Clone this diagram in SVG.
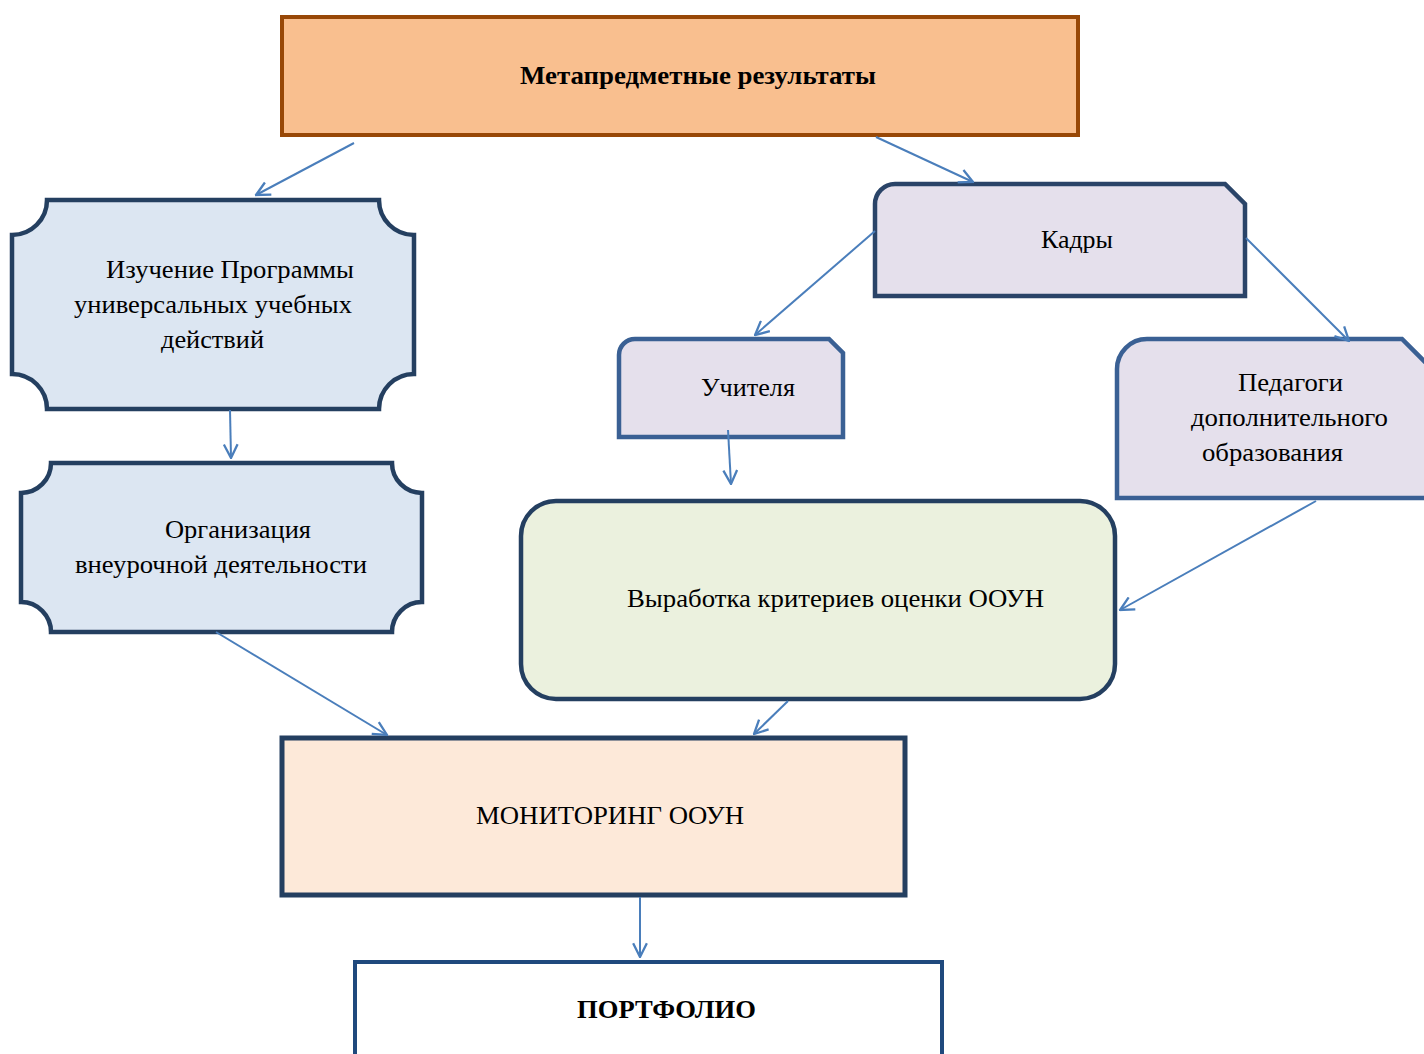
<svg xmlns="http://www.w3.org/2000/svg" width="1424" height="1054" viewBox="0 0 1424 1054">
<defs>
<style>
text{font-family:"Liberation Serif","Times New Roman",serif;font-size:26px;fill:#000}
.b{font-weight:bold}
.ln{fill:none;stroke:#4A7EBB;stroke-width:2;marker-end:url(#ah)}
.navy{stroke:#243F60;stroke-width:4.5}
.blue{stroke:#3A6094;stroke-width:4.5}
</style>
<marker id="ah" viewBox="0 0 14 14" refX="13" refY="7" markerWidth="16" markerHeight="16" markerUnits="userSpaceOnUse" orient="auto">
<path d="M1,1 L13,7 L1,13" fill="none" stroke="#4A7EBB" stroke-width="2"/>
</marker>
</defs>
<rect width="1424" height="1054" fill="#fff"/>

<g id="n-title">
<rect x="282" y="17" width="796" height="118" fill="#F9BF8F" stroke="#984807" stroke-width="4"/>
<text class="b" x="520" y="84" textLength="356" lengthAdjust="spacingAndGlyphs">Метапредметные результаты</text>
</g>

<g id="n-study">
<path class="navy" fill="#DCE6F2" d="M47,200 H379 A35,35 0 0 0 414,235 V374 A35,35 0 0 0 379,409 H47 A35,35 0 0 0 12,374 V235 A35,35 0 0 0 47,200 Z"/>
<text x="106" y="278" textLength="248" lengthAdjust="spacingAndGlyphs">Изучение Программы</text>
<text x="74" y="313" textLength="278" lengthAdjust="spacingAndGlyphs">универсальных учебных</text>
<text x="161" y="348" textLength="103" lengthAdjust="spacingAndGlyphs">действий</text>
</g>

<g id="n-org">
<path class="navy" fill="#DCE6F2" d="M51,463 H392 A30,30 0 0 0 422,493 V602 A30,30 0 0 0 392,632 H51 A30,30 0 0 0 21,602 V493 A30,30 0 0 0 51,463 Z"/>
<text x="165" y="538" textLength="146" lengthAdjust="spacingAndGlyphs">Организация</text>
<text x="75" y="573" textLength="292" lengthAdjust="spacingAndGlyphs">внеурочной деятельности</text>
</g>

<g id="n-kadry">
<path fill="#E5E0EC" stroke="#2A4468" stroke-width="4.5" d="M895,184 H1225 L1245,204 V296 H875 V204 A20,20 0 0 1 895,184 Z"/>
<text x="1041" y="248" textLength="72" lengthAdjust="spacingAndGlyphs">Кадры</text>
</g>

<g id="n-teachers">
<path class="blue" fill="#E5E0EC" d="M635,339 H829 L843,353 V437 H619 V355 A16,16 0 0 1 635,339 Z"/>
<text x="701" y="396" textLength="94" lengthAdjust="spacingAndGlyphs">Учителя</text>
</g>

<g id="n-pedagogi">
<path class="blue" fill="#E5E0EC" d="M1147,339 H1402 L1440,377 V498 H1117 V369 A30,30 0 0 1 1147,339 Z"/>
<text x="1238" y="391" textLength="105" lengthAdjust="spacingAndGlyphs">Педагоги</text>
<text x="1191" y="426" textLength="197" lengthAdjust="spacingAndGlyphs">дополнительного</text>
<text x="1202" y="461" textLength="141" lengthAdjust="spacingAndGlyphs">образования</text>
</g>

<g id="n-criteria">
<rect class="navy" x="521" y="501" width="594" height="198" rx="35" ry="35" fill="#EBF1DE"/>
<text x="627" y="607" textLength="417" lengthAdjust="spacingAndGlyphs">Выработка критериев оценки ООУН</text>
</g>

<g id="n-monitoring">
<rect x="282" y="738" width="623" height="157" fill="#FDE9D9" stroke="#243F60" stroke-width="5"/>
<text x="476" y="824" textLength="268" lengthAdjust="spacingAndGlyphs">МОНИТОРИНГ ООУН</text>
</g>

<g id="n-portfolio">
<rect x="355" y="962" width="587" height="130" fill="#FFFFFF" stroke="#1F497D" stroke-width="4"/>
<text class="b" x="577" y="1018" textLength="179" lengthAdjust="spacingAndGlyphs">ПОРТФОЛИО</text>
</g>

<g id="connectors">
<line class="ln" x1="354" y1="143" x2="256" y2="195"/>
<line class="ln" x1="876" y1="137" x2="973" y2="182"/>
<line class="ln" x1="875" y1="231" x2="755" y2="335"/>
<line class="ln" x1="1246" y1="238" x2="1349" y2="341"/>
<line class="ln" x1="230" y1="410" x2="231" y2="458"/>
<line class="ln" x1="728" y1="430" x2="731" y2="484"/>
<line class="ln" x1="1316" y1="501" x2="1120" y2="610"/>
<line class="ln" x1="216" y1="632" x2="387" y2="735"/>
<line class="ln" x1="788" y1="701" x2="754" y2="734"/>
<line class="ln" x1="640" y1="897" x2="640" y2="957"/>
</g>
</svg>
